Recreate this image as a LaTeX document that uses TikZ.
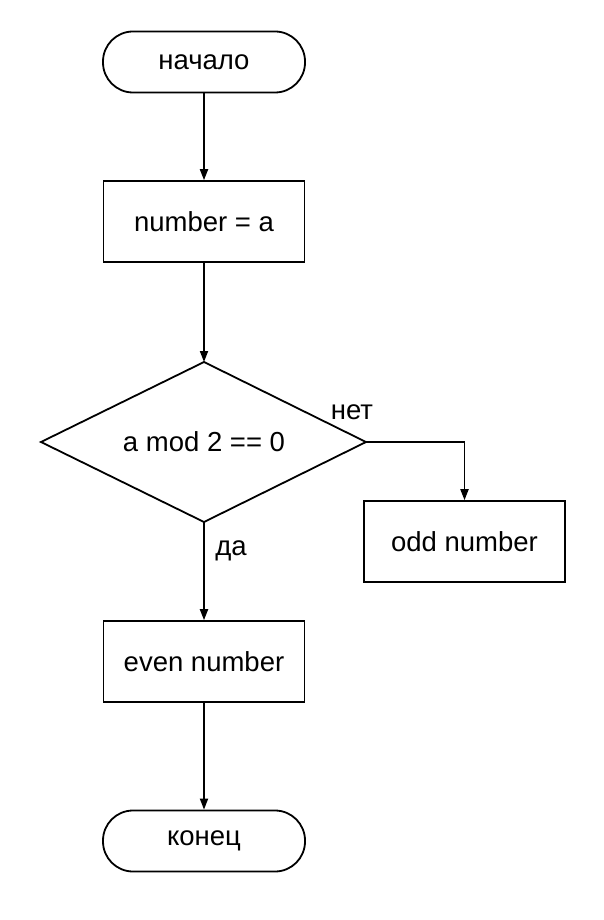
\documentclass[tikz,border=0pt]{standalone}
\usepackage{fontspec}
\setmainfont{Liberation Sans}
\usetikzlibrary{arrows.meta}
\begin{document}
\begin{tikzpicture}[x=1pt,y=-1pt,
  every node/.style={font=\fontsize{27.5}{32}\selectfont},
  terminal/.style={draw,line width=1.8pt,rounded corners=30pt,minimum width=202pt,minimum height=61pt,inner sep=0pt},
  procbox/.style={draw,line width=1.6pt,minimum width=201pt,minimum height=81pt,inner sep=0pt},
  decisionline/.style={draw,line width=1.8pt,line join=miter},
  lbl/.style={inner sep=0pt},
  conn/.style={line width=1.8pt,-{Triangle[length=11pt,width=8pt]}}]
\useasboundingbox (0,0) rectangle (604,920);
\node[terminal] (start) at (204,62) {начало};
\node[procbox] (assign) at (204,221.5) {number = a};
\coordinate (condtop) at (204,362);
\coordinate (condright) at (366,442);
\coordinate (condbottom) at (204,522);
\coordinate (condleft) at (41,442);
\draw[decisionline] (condtop) -- (condright) -- (condbottom) -- (condleft) -- cycle;
\node (cond) at (204,442) {a mod 2 == 0};
\node[procbox] (odd) at (464.5,541.5) {odd number};
\node[procbox] (even) at (204,661.5) {even number};
\node[terminal] (stop) at (204,841) {конец};
\node[lbl] (no) at (352,412) {нет};
\node[lbl] (yes) at (231,551) {да};
\draw[conn] (start) -- (assign);
\draw[conn] (assign) -- (condtop);
\draw[conn] (condright) -| (odd.north);
\draw[conn] (condbottom) -- (even.north);
\draw[conn] (even) -- (stop);
\end{tikzpicture}
\end{document}
